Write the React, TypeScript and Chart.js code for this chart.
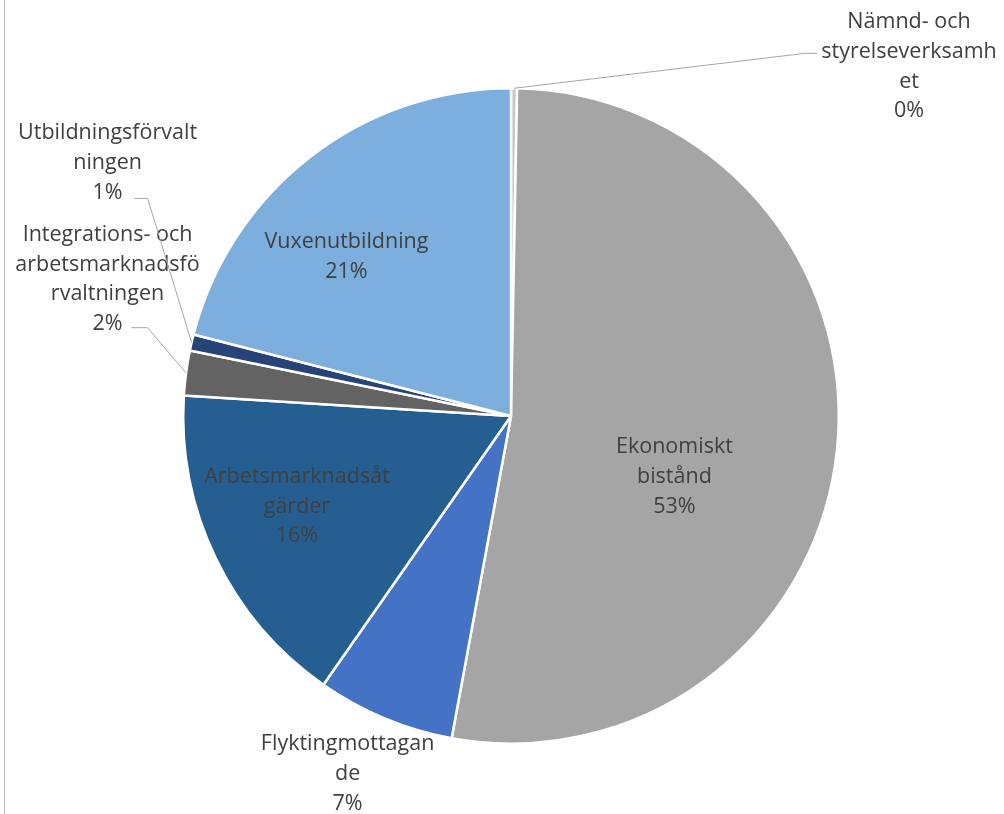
import React, { useEffect, useRef } from "react";
import { Chart, registerables } from "chart.js";

Chart.register(...registerables);

const categories = [
  "Nämnd- och styrelseverksamhet",
  "Ekonomiskt bistånd",
  "Flyktingmottagande",
  "Arbetsmarknadsåtgärder",
  "Integrations- och arbetsmarknadsförvaltningen",
  "Utbildningsförvaltningen",
  "Vuxenutbildning",
];
const values = [0.3, 52.6, 6.8, 16.3, 2.2, 0.8, 21.0];
const labelLines = [
  ["Nämnd- och", "styrelseverksamh", "et"],
  ["Ekonomiskt", "bistånd"],
  ["Flyktingmottagan", "de"],
  ["Arbetsmarknadsåt", "gärder"],
  ["Integrations- och", "arbetsmarknadsfö", "rvaltningen"],
  ["Utbildningsförvalt", "ningen"],
  ["Vuxenutbildning"],
];
const colors = ["#C8C8C8", "#A5A5A5", "#4472C4", "#255E91", "#636363", "#264478", "#7CAFDD"];

// label placement: angle (deg clockwise from top), distance in radius units,
// optional leader line (elbow and end offsets relative to label centre, px)
type Place = { angle: number; dist: number; leader?: { elbow: [number, number]; end: [number, number] } };
const placements: Place[] = [
  { angle: 48.74, dist: 1.6155, leader: { elbow: [-104, -13.5], end: [-92, -13.5] } },
  { angle: 110.4, dist: 0.532 },
  { angle: 204.55, dist: 1.2 },
  { angle: 247.1, dist: 0.709 },
  { angle: 288.7, dist: 1.2997, leader: { elbow: [40, 48.25], end: [24, 48.25] } },
  { angle: 302.1, dist: 1.453, leader: { elbow: [40, 35.5], end: [27, 35.5] } },
  { angle: 314.0, dist: 0.698 },
];

const FONT = '21.5px "Open Sans"';
const LINE_H = 29.7;
const TEXT_COLOR = "#404040";

const labelPlugin = {
  id: "pieLabels",
  afterDatasetsDraw(chart: any) {
    const ctx: CanvasRenderingContext2D = chart.ctx;
    const meta = chart.getDatasetMeta(0);
    const total = values.reduce((a, b) => a + b, 0);
    ctx.save();
    meta.data.forEach((arc: any, i: number) => {
      const cx = arc.x;
      const cy = arc.y;
      const R = arc.outerRadius;
      const p = placements[i];
      const a = ((p.angle - 90) * Math.PI) / 180;
      const lx = cx + Math.cos(a) * R * p.dist;
      const ly = cy + Math.sin(a) * R * p.dist;
      const lines = [...labelLines[i], Math.round((values[i] / total) * 100) + "%"];
      if (p.leader) {
        const mid = (arc.startAngle + arc.endAngle) / 2;
        const rx = cx + Math.cos(mid) * R;
        const ry = cy + Math.sin(mid) * R;
        ctx.strokeStyle = "#A6A6A6";
        ctx.lineWidth = 1;
        ctx.beginPath();
        ctx.moveTo(rx, ry);
        ctx.lineTo(lx + p.leader.elbow[0], ly + p.leader.elbow[1]);
        ctx.lineTo(lx + p.leader.end[0], ly + p.leader.end[1]);
        ctx.stroke();
      }
      ctx.font = FONT;
      ctx.fillStyle = TEXT_COLOR;
      ctx.textAlign = "center";
      ctx.textBaseline = "middle";
      const top = ly - ((lines.length - 1) * LINE_H) / 2;
      lines.forEach((t, k) => ctx.fillText(t, lx, top + k * LINE_H));
    });
    ctx.restore();
  },
};

export default function App() {
  const ref = useRef<HTMLCanvasElement | null>(null);
  useEffect(() => {
    if (!ref.current) return;
    const chart = new Chart(ref.current, {
      type: "pie",
      data: {
        labels: categories,
        datasets: [
          {
            data: values,
            backgroundColor: colors,
            borderColor: "#FFFFFF",
            borderWidth: 2.5,
          },
        ],
      },
      options: {
        responsive: false,
        maintainAspectRatio: false,
        animation: false,
        devicePixelRatio: 1,
        layout: { padding: { left: 182, right: 164, top: 87, bottom: 69 } },
        plugins: { legend: { display: false }, tooltip: { enabled: false } },
      },
      plugins: [labelPlugin],
    });
    return () => chart.destroy();
  }, []);
  return (
    <div style={{ position: "absolute", left: 0, top: 0, width: 1004, height: 814, background: "#fff", overflow: "hidden" }}>
      <div style={{ position: "absolute", left: 4, top: 0, width: 1, height: 814, background: "#BFBFBF" }} />
      <canvas ref={ref} width={1004} height={814} style={{ position: "absolute", left: 0, top: 0 }} />
    </div>
  );
}
